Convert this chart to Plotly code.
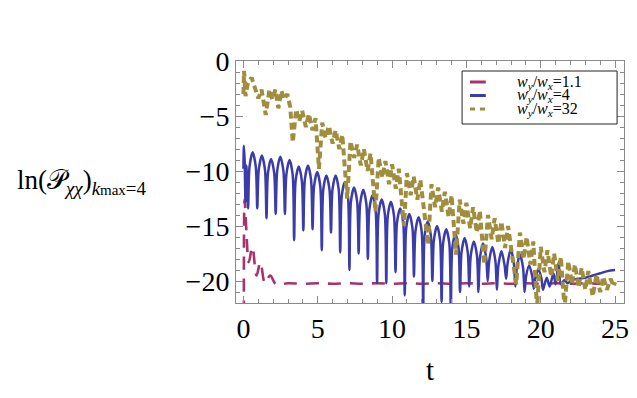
import plotly.graph_objects as go

# w_y/w_x = 1.1 (red, dashed)
red_t = [0.03, 0.08, 0.20, 0.36, 0.60, 0.88, 1.14, 1.45, 1.80, 2.20, 3.0, 4.0, 5.0, 6.0, 7.0,
         8.0, 9.0, 10.0, 11.0, 12.0, 13.0, 14.0, 15.0, 16.0, 17.0, 18.0, 19.0, 20.0, 21.0,
         22.0, 23.0, 24.0, 25.0]
red_y = [-23.0, -12.6, -15.5, -18.3, -16.9, -19.5, -18.3, -20.2, -19.5, -20.3, -20.2, -20.25,
         -20.2, -20.25, -20.2, -20.25, -20.2, -20.25, -20.2, -20.25, -20.2, -20.25, -20.2,
         -20.25, -20.2, -20.25, -20.2, -20.25, -20.2, -20.25, -20.2, -20.25, -20.2]

# w_y/w_x = 4 (blue, solid)
blue_t = [0.00, 0.03, 0.08, 0.14, 0.20,
          0.31, 0.41, 0.62, 0.83, 0.93, 1.03, 1.24, 1.45, 1.55, 1.65, 1.86, 2.07,
          2.17, 2.27, 2.48, 2.69, 2.79, 2.89, 3.10, 3.31, 3.41, 3.51, 3.72, 3.93,
          4.03, 4.13, 4.34, 4.55, 4.65, 4.75, 4.96, 5.17, 5.27, 5.37, 5.58, 5.79,
          5.89, 5.99, 6.20, 6.41, 6.51, 6.61, 6.82, 7.03, 7.13, 7.23, 7.44, 7.65,
          7.75, 7.85, 8.06, 8.27, 8.37, 8.47, 8.68, 8.89, 8.99, 9.09, 9.30, 9.51,
          9.61, 9.71, 9.92, 10.13, 10.23, 10.33, 10.54, 10.75, 10.85, 10.95, 11.16, 11.37,
          11.47, 11.57, 11.78, 11.99, 12.09, 12.19, 12.40, 12.61, 12.71, 12.81, 13.02, 13.23,
          13.33, 13.43, 13.64, 13.85, 13.95, 14.05, 14.26, 14.47, 14.57, 14.67, 14.88, 15.09,
          15.19, 15.29, 15.50, 15.71, 15.81, 15.91, 16.12, 16.33, 16.43, 16.53, 16.74, 16.95,
          17.05, 17.15, 17.36, 17.57, 17.67, 17.77, 17.98, 18.19, 18.29, 18.39, 18.60, 18.81,
          18.91, 19.01, 19.22, 19.43, 19.53, 19.63, 19.84, 20.05, 20.15,
          20.40, 20.60, 20.85, 21.00, 21.20, 21.35, 21.60, 21.80, 22.10, 22.50, 23.00,
          23.50, 24.00, 24.50, 25.00]
blue_y = [-9.8, -7.7, -9.0, -12.8, -9.5,
          -13.4, -9.6, -8.3, -9.6, -13.4, -9.9, -8.6, -9.9, -14.3, -10.2, -8.9, -10.2,
          -13.9, -10.0, -8.7, -10.0, -13.9, -10.3, -9.0, -10.3, -16.3, -10.9, -9.6, -10.9,
          -15.4, -10.8, -9.5, -10.8, -15.3, -11.4, -10.1, -11.4, -17.2, -11.7, -10.4, -11.7,
          -15.6, -11.7, -10.4, -11.7, -17.4, -12.3, -11.0, -12.3, -19.0, -12.8, -11.5, -12.8,
          -17.5, -13.0, -11.7, -13.0, -18.0, -13.5, -12.2, -13.5, -20.2, -13.9, -12.6, -13.9,
          -20.2, -14.1, -12.8, -14.1, -19.2, -14.7, -13.4, -14.7, -21.3, -15.2, -13.9, -15.2,
          -19.6, -15.5, -14.2, -15.5, -23.0, -15.9, -14.6, -15.9, -20.0, -16.3, -15.0, -16.3,
          -21.9, -16.6, -15.3, -16.6, -23.0, -17.0, -15.7, -17.0, -21.0, -17.4, -16.1, -17.4,
          -20.5, -17.7, -16.4, -17.7, -21.0, -17.9, -16.6, -17.9, -20.0, -18.2, -16.9, -18.2,
          -20.8, -18.6, -17.3, -18.6, -19.8, -18.4, -17.1, -18.4, -20.5, -18.8, -17.6, -18.8,
          -21.0, -19.6, -18.6, -19.6, -20.7, -19.8, -18.9, -19.8, -20.8,
          -19.7, -20.5, -19.3, -20.3, -18.3, -20.3, -19.9, -20.2, -19.9, -19.8, -19.7,
          -19.5, -19.3, -19.1, -19.0]

# w_y/w_x = 32 (olive, short dashes)
olive_t = [0.00, 0.04, 0.14, 0.30, 0.55, 0.80, 1.00, 1.22, 1.50, 1.75, 1.95, 2.15, 2.35, 2.55,
           2.75, 2.95, 3.15, 3.32, 3.55, 3.75, 3.95, 4.20, 4.40, 4.65, 4.85, 5.08, 5.30, 5.52,
           5.75, 6.00, 6.20, 6.45, 6.65, 6.98, 7.20, 7.45, 7.65, 7.90, 8.10, 8.35, 8.55, 8.88,
           9.10, 9.35, 9.55, 9.80, 10.00, 10.25, 10.45, 10.80, 11.00, 11.25, 11.45, 11.70,
           11.90, 12.10, 12.42, 12.65, 12.90, 13.10, 13.35, 13.55, 13.80, 14.00, 14.30, 14.55,
           14.80, 15.00, 15.25, 15.45, 15.70, 15.90, 16.20, 16.45, 16.70, 16.90, 17.15, 17.35,
           17.60, 17.80, 18.05, 18.35, 18.60, 18.85, 19.05, 19.30, 19.50, 19.75, 20.00, 20.25,
           20.45, 20.70, 20.90, 21.15, 21.35, 21.60, 21.85, 22.10, 22.30, 22.55, 22.75, 23.00,
           23.20, 23.50, 23.75, 24.00, 24.20, 24.45, 24.70, 24.90, 25.00]
olive_y = [-3.0, -0.9, -3.2, -2.0, -1.5, -2.6, -3.4, -2.6, -4.9, -2.6, -3.5, -2.6, -4.3, -2.7,
           -3.5, -3.0, -4.2, -7.4, -4.4, -5.5, -4.5, -6.0, -4.8, -6.3, -5.2, -9.8, -5.6, -7.0,
           -5.9, -7.5, -6.3, -8.0, -6.7, -12.5, -7.3, -8.8, -7.6, -9.5, -8.0, -10.0, -8.4, -13.7,
           -8.8, -10.6, -9.1, -11.2, -9.4, -11.6, -9.8, -15.0, -10.2, -12.2, -10.5, -12.6,
           -10.8, -13.0, -16.7, -11.2, -13.3, -11.5, -13.7, -11.9, -14.2, -12.2, -17.6, -12.6,
           -14.8, -12.9, -15.2, -13.3, -15.6, -13.6, -18.5, -14.0, -16.2, -14.3, -16.6, -14.6,
           -17.0, -15.0, -17.5, -20.3, -15.6, -18.0, -16.0, -18.5, -16.4, -22.5, -16.9, -19.2,
           -17.2, -19.6, -17.5, -20.0, -17.8, -22.5, -18.2, -20.3, -18.5, -20.6, -18.8, -20.8,
           -19.1, -21.4, -19.4, -21.0, -19.6, -20.8, -19.8, -20.5, -20.1]

RED = "rgb(165,52,108)"
BLUE = "rgb(60,60,168)"
OLIVE = "rgb(160,142,62)"
FRAME = "#8a8a8a"
SERIF = "Liberation Serif"

fig = go.Figure()
fig.add_trace(go.Scatter(x=red_t, y=red_y, mode="lines",
                         line=dict(color=RED, width=2.6, dash="13px,9px", shape="spline"),
                         showlegend=False))
fig.add_trace(go.Scatter(x=blue_t, y=blue_y, mode="lines",
                         line=dict(color=BLUE, width=2.5, shape="spline", smoothing=0.8),
                         showlegend=False))
fig.add_trace(go.Scatter(x=olive_t, y=olive_y, mode="lines",
                         line=dict(color=OLIVE, width=4, dash="7px,4px"),
                         showlegend=False))

axis_common = dict(showline=True, linecolor=FRAME, linewidth=1, mirror="allticks",
                   ticks="inside", ticklen=7, tickcolor=FRAME, showgrid=False,
                   zeroline=False, ticklabeloverflow="allow",
                   tickfont=dict(family=SERIF, size=28, color="black"),
                   minor=dict(ticks="inside", ticklen=4, tickcolor=FRAME, showgrid=False))

fig.update_xaxes(range=[-0.5, 25.6], tick0=0, dtick=5, **axis_common)
fig.update_xaxes(minor_dtick=1)
fig.update_yaxes(range=[-22, 0], tick0=0, dtick=5, **axis_common)
fig.update_yaxes(minor_dtick=1)

# page body adds an 8px margin, so the figure is 8px smaller and positions are in page pixels
L, W, T, H = 236, 393, 61, 242
def px(x): return (x - L) / W
def py(y): return 1 - (y - T) / H

# legend drawn by hand (Mathematica style)
fig.add_shape(type="rect", xref="paper", yref="paper", x0=px(465), x1=px(622),
              y0=py(124), y1=py(71), line=dict(color="#222", width=1), fillcolor="white")
names = ["1.1", "4", "32"]
colors = [RED, BLUE, OLIVE]
dashes = ["solid", "solid", "5px,5px"]
rows = [82, 95.5, 109]
for n, c, d, r in zip(names, colors, dashes, rows):
    fig.add_shape(type="line", xref="paper", yref="paper", x0=px(473), x1=px(489),
                  y0=py(r), y1=py(r), line=dict(color=c, width=3, dash=d))
    fig.add_annotation(xref="paper", yref="paper", x=px(519), y=py(r), xanchor="left",
                       yanchor="middle", showarrow=False,
                       text="<i>w</i><sub><i>y</i></sub>/<i>w</i><sub><i>x</i></sub>=" + n,
                       font=dict(family=SERIF, size=16, color="black"))

fig.add_annotation(xref="paper", yref="paper", x=px(12), y=0.5, xanchor="left",
                   yanchor="middle", showarrow=False,
                   text="ln(𝒫<sub><i>χχ</i></sub>)<sub><i>k</i><span style='font-size:15px'>max</span>=4</sub>",
                   font=dict(family=SERIF, size=27, color="black"))
fig.add_annotation(xref="paper", yref="paper", x=px(432), y=py(370), xanchor="center",
                   yanchor="middle", showarrow=False, text="t",
                   font=dict(family=SERIF, size=29, color="black"))

fig.update_layout(width=629, height=390, margin=dict(l=228, r=8, t=53, b=95),
                  plot_bgcolor="white", paper_bgcolor="white", showlegend=False)

fig.write_html("out.html")
